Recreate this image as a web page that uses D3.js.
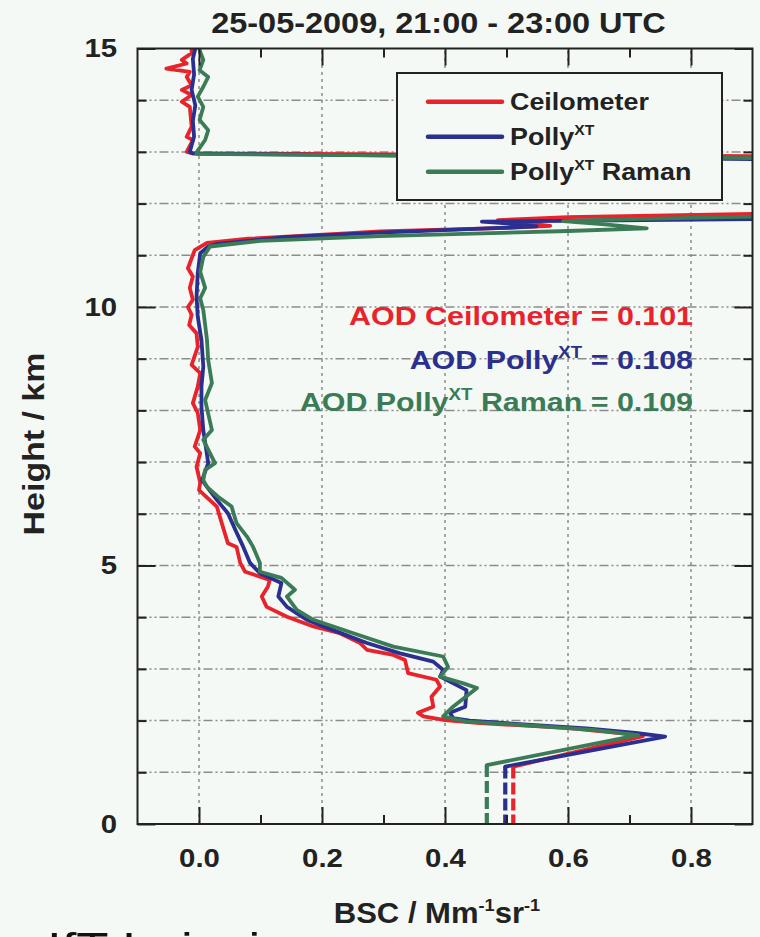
<!DOCTYPE html>
<head>
  <meta charset="utf-8">
  <style>
  body { margin: 0; background: #f4f9f5; }
  text { font-family: 'Liberation Sans', Arial, Helvetica, sans-serif; fill: #222; }
  .grid-h { stroke: #8c8c8c; stroke-width: 1.5; stroke-dasharray: 9,3,2,3,2,3; }
  .grid-v { stroke: #8c8c8c; stroke-width: 1.5; stroke-dasharray: 3,4; }
  .axis path { display: none; }
  .axis line { stroke: #222; stroke-width: 2; }
  .profile { fill: none; stroke-width: 3.8; stroke-linejoin: round; stroke-linecap: round; }
  </style>
</head>
<body>
  <svg id="chart"></svg>

  <script src="https://d3js.org/d3.v7.min.js"></script>
  <script>

  var width = 760,
      height = 937;

  // profiles as [height km, backscatter Mm-1 sr-1]; 1.6 = off scale (cloud)
  var ceilometer = [
    [15.0,-0.012],[14.91,-0.012],[14.78,-0.028],[14.71,-0.02],[14.61,-0.053],[14.55,-0.015],
    [14.45,-0.02],[14.29,-0.012],[14.20,-0.028],[14.10,-0.012],[13.97,-0.028],[13.87,-0.015],
    [13.49,-0.012],[13.29,-0.02],[13.23,-0.01],[13.0,-0.02],[12.97,-0.01],[12.92,0.9],[12.9,1.6],
    [11.85,1.6],[11.80,0.9],[11.74,0.6],[11.68,0.486],[11.62,0.53],[11.57,0.571],[11.53,0.50],
    [11.46,0.294],[11.43,0.246],[11.32,0.08],[11.24,0.013],[11.10,-0.007],[10.75,-0.018],
    [10.59,-0.01],[10.37,-0.015],[10.14,-0.01],[10.0,-0.018],[9.85,-0.012],[9.65,-0.016],
    [9.49,-0.004],[9.23,-0.002],[8.88,-0.012],[8.72,0.002],[8.46,-0.002],[8.14,-0.01],
    [7.95,-0.002],[7.62,0.002],[7.30,-0.007],[7.17,0.002],[6.91,-0.004],[6.60,0.002],[6.46,0.0],
    [6.14,0.029],[5.82,0.037],[5.43,0.047],[5.36,0.061],[5.05,0.067],[4.88,0.075],[4.72,0.115],
    [4.59,0.112],[4.40,0.102],[4.20,0.110],[4.01,0.143],[3.82,0.186],[3.69,0.229],[3.50,0.262],
    [3.37,0.273],[3.27,0.316],[3.17,0.335],[2.92,0.340],[2.79,0.386],[2.66,0.392],[2.46,0.378],
    [2.27,0.381],[2.15,0.356],[2.08,0.365],[2.01,0.40],[1.95,0.457],[1.86,0.598],[1.76,0.684],
    [1.70,0.722],[1.11,0.511]
  ];
  var polly = [
    [15.0,-0.006],[14.8,-0.01],[14.5,-0.008],[14.2,-0.012],[13.9,-0.006],[13.6,-0.01],
    [13.3,-0.008],[13.0,-0.015],[12.97,-0.01],[12.86,0.9],[12.84,1.6],[11.85,1.6],[11.70,0.9],
    [11.65,0.46],[11.60,0.52],[11.56,0.549],[11.52,0.47],[11.44,0.294],[11.35,0.14],[11.22,0.03],
    [11.17,0.015],[11.04,0.002],[10.66,-0.002],[10.2,-0.004],[9.81,-0.002],[9.36,0.004],
    [8.85,0.007],[8.46,0.004],[8.07,0.004],[7.62,0.007],[6.98,0.015],[6.65,0.005],[6.52,0.013],
    [6.27,0.029],[6.01,0.047],[5.69,0.059],[5.36,0.072],[5.05,0.083],[4.85,0.099],[4.66,0.134],
    [4.40,0.129],[4.20,0.143],[3.95,0.175],[3.75,0.218],[3.50,0.273],[3.30,0.327],[3.14,0.381],
    [2.98,0.397],[2.85,0.392],[2.59,0.435],[2.27,0.433],[2.15,0.408],[2.05,0.413],[2.0,0.44],
    [1.95,0.50],[1.85,0.63],[1.76,0.71],[1.69,0.758],[1.11,0.498]
  ];
  var pollyRaman = [
    [14.97,0.001],[14.78,0.007],[14.58,0.001],[14.45,0.015],[14.26,0.007],[14.07,-0.002],
    [13.87,0.007],[13.62,0.001],[13.42,0.015],[13.23,0.01],[12.99,-0.004],[12.96,-0.004],
    [12.88,0.9],[12.86,1.6],[11.85,1.6],[11.75,0.9],[11.70,0.7],[11.66,0.592],[11.60,0.66],
    [11.52,0.728],[11.47,0.6],[11.37,0.294],[11.28,0.1],[11.17,0.018],[10.97,0.007],
    [10.68,0.002],[10.37,0.01],[10.17,0.002],[9.94,0.007],[9.36,0.013],[8.97,0.015],[8.53,0.021],
    [8.20,0.01],[7.62,0.021],[7.43,0.007],[6.98,0.026],[6.85,0.01],[6.65,0.007],[6.52,0.013],
    [6.33,0.031],[6.14,0.053],[5.82,0.061],[5.56,0.078],[5.36,0.088],[5.05,0.099],[4.88,0.099],
    [4.76,0.134],[4.53,0.156],[4.40,0.143],[4.14,0.159],[3.95,0.186],[3.69,0.251],[3.43,0.316],
    [3.24,0.397],[3.04,0.405],[2.85,0.392],[2.72,0.430],[2.63,0.452],[2.27,0.413],[2.08,0.397],
    [1.98,0.435],[1.92,0.52],[1.82,0.64],[1.72,0.714],[1.14,0.468]
  ];

  // below the overlap height: constant extension (dashed)
  var ceilometerBelow = [[1.11,0.511],[0,0.511]];
  var pollyBelow = [[1.11,0.498],[0,0.498]];
  var pollyRamanBelow = [[1.14,0.468],[0,0.468]];

  var seriesNames = [['Ceilometer', ''], ['Polly', 'XT'], ['Polly', 'XT', ' Raman']];
  var aodValues = ['0.101', '0.108', '0.109'];

  var xMajor = [0, 0.2, 0.4, 0.6, 0.8];
  var xMinor = [0.1, 0.3, 0.5, 0.7];
  var yMajor = [0, 5, 10, 15];
  var yMinor = [1, 2, 3, 4, 6, 7, 8, 9, 11, 12, 13, 14];

  var colors = ['#e8232b', '#2b2f8f', '#3b7b56'];

  var x = d3.scaleLinear().domain([-0.1, 0.9]).range([137.5, 752.5]);
  var y = d3.scaleLinear().domain([0, 15]).range([824, 48.5]);

  var svg = d3.select('#chart')
    .attr('width', width)
    .attr('height', height);

  svg.append('rect')
    .attr('width', width)
    .attr('height', height)
    .attr('fill', '#f4f9f5');

  svg.append('clipPath').attr('id', 'plot-clip')
    .append('rect')
      .attr('x', x(-0.1)).attr('y', y(15))
      .attr('width', x(0.9) - x(-0.1))
      .attr('height', y(0) - y(15));

  // grid
  svg.append('g').selectAll('line')
    .data(d3.range(1, 15))
    .enter().append('line')
      .attr('class', 'grid-h')
      .attr('x1', x(-0.1)).attr('x2', x(0.9))
      .attr('y1', y).attr('y2', y);

  svg.append('g').selectAll('line')
    .data(xMajor)
    .enter().append('line')
      .attr('class', 'grid-v')
      .attr('y1', y(0)).attr('y2', y(15))
      .attr('x1', x).attr('x2', x);

  // profiles
  var line = d3.line()
    .x(function(d) { return x(d[1]); })
    .y(function(d) { return y(d[0]); });

  var curves = svg.append('g').attr('clip-path', 'url(#plot-clip)');
  [ceilometer, polly, pollyRaman].forEach(function(p, i) {
    curves.append('path')
      .attr('class', 'profile')
      .attr('d', line(p))
      .attr('stroke', colors[i]);
  });
  [ceilometerBelow, pollyBelow, pollyRamanBelow].forEach(function(p, i) {
    curves.append('path')
      .attr('class', 'profile')
      .attr('d', line(p))
      .attr('stroke', colors[i])
      .style('stroke-width', 4.2)
      .style('stroke-linecap', 'butt')
      .style('stroke-dasharray', '12,4');
  });

  // frame + ticks (all pointing inwards)
  svg.append('rect')
    .attr('x', x(-0.1)).attr('y', y(15))
    .attr('width', x(0.9) - x(-0.1))
    .attr('height', y(0) - y(15))
    .attr('fill', 'none')
    .attr('stroke', '#222')
    .attr('stroke-width', 2);

  function stretch(sel, sx) {
    sel.attr('transform', 'scale(' + sx + ',1)');
  }

  svg.append('g').attr('class', 'axis')
    .attr('transform', 'translate(0,' + y(0) + ')')
    .call(d3.axisBottom(x).tickValues(xMajor).tickSize(-17).tickSizeOuter(0)
      .tickPadding(25).tickFormat(d3.format('.1f')))
    .selectAll('text')
      .style('font-size', '26px').style('font-weight', 'bold').style('fill', '#222')
      .call(stretch, 1.13);
  svg.append('g').attr('class', 'axis')
    .attr('transform', 'translate(0,' + y(0) + ')')
    .call(d3.axisBottom(x).tickValues(xMinor).tickSize(-9).tickSizeOuter(0).tickFormat(''));
  svg.append('g').attr('class', 'axis')
    .attr('transform', 'translate(0,' + y(15) + ')')
    .call(d3.axisTop(x).tickValues(xMajor).tickSize(-17).tickSizeOuter(0).tickFormat(''));
  svg.append('g').attr('class', 'axis')
    .attr('transform', 'translate(0,' + y(15) + ')')
    .call(d3.axisTop(x).tickValues(xMinor).tickSize(-9).tickSizeOuter(0).tickFormat(''));

  svg.append('g').attr('class', 'axis')
    .attr('transform', 'translate(' + x(-0.1) + ',0)')
    .call(d3.axisLeft(y).tickValues(yMajor).tickSize(-18).tickSizeOuter(0).tickPadding(18))
    .selectAll('text')
      .style('font-size', '26px').style('font-weight', 'bold').style('fill', '#222')
      .call(stretch, 1.13);
  svg.append('g').attr('class', 'axis')
    .attr('transform', 'translate(' + x(-0.1) + ',0)')
    .call(d3.axisLeft(y).tickValues(yMinor).tickSize(-9).tickSizeOuter(0).tickFormat(''));
  svg.append('g').attr('class', 'axis')
    .attr('transform', 'translate(' + x(0.9) + ',0)')
    .call(d3.axisRight(y).tickValues(yMajor).tickSize(-18).tickSizeOuter(0).tickFormat(''));
  svg.append('g').attr('class', 'axis')
    .attr('transform', 'translate(' + x(0.9) + ',0)')
    .call(d3.axisRight(y).tickValues(yMinor).tickSize(-9).tickSizeOuter(0).tickFormat(''));

  // text helper: a group scaled horizontally, text at its origin
  function label(px, py, sx, size, weight, anchor, parts, fill, rotate) {
    var g = svg.append('g')
      .attr('transform', 'translate(' + px + ',' + py + ')' + (rotate ? 'rotate(' + rotate + ')' : '') + 'scale(' + sx + ',1)');
    var t = g.append('text')
      .attr('text-anchor', anchor)
      .style('font-size', size + 'px')
      .style('font-weight', weight)
      .style('fill', fill || '#222');
    parts.forEach(function(p) {
      var s = t.append('tspan').text(p[0]);
      if (p[1] === 'sup') s.style('font-size', Math.round(size * 0.6) + 'px').attr('dy', -size * 0.42);
      if (p[1] === 'down') s.attr('dy', size * 0.42);
    });
    return t;
  }

  label(438.5, 33, 1.12, 29, 'bold', 'middle', [['25-05-2009, 21:00 - 23:00 UTC']]);
  label(437, 923, 1.07, 29, 'bold', 'middle',
    [['BSC / Mm'], ['-1', 'sup'], ['sr', 'down'], ['-1', 'sup']]);
  label(44, 444, 1.17, 29, 'bold', 'middle', [['Height / km']], null, -90);

  // legend
  svg.append('rect')
    .attr('x', 397).attr('y', 73)
    .attr('width', 325).attr('height', 127)
    .attr('fill', '#f4f9f5')
    .attr('stroke', '#222')
    .attr('stroke-width', 2);

  seriesNames.forEach(function(n, i) {
    var ly = 101.7 + i * 35;
    svg.append('line')
      .attr('x1', 428).attr('x2', 502)
      .attr('y1', ly).attr('y2', ly)
      .attr('stroke', colors[i])
      .attr('stroke-width', 4.5)
      .attr('stroke-linecap', 'round');
    var parts = [[n[0]]];
    if (n[1]) parts.push([n[1], 'sup']);
    if (n[2]) parts.push([n[2], 'down']);
    label(510, ly + 8.5, 1.12, 24, 'bold', 'start', parts);
  });

  // AOD annotations
  label(693, 325, 1.17, 26, 'bold', 'end',
    [['AOD Ceilometer = ' + aodValues[0]]], colors[0]);
  label(693, 369, 1.17, 26, 'bold', 'end',
    [['AOD Polly'], ['XT', 'sup'], [' = ' + aodValues[1], 'down']], colors[1]);
  label(693, 411, 1.17, 26, 'bold', 'end',
    [['AOD Polly'], ['XT', 'sup'], [' Raman = ' + aodValues[2], 'down']], colors[2]);

  // cut-off caption at the bottom edge, as in the source image
  label(47, 964, 1.2, 44, 'normal', 'start', [['IfT Leipzig']], '#111');

  </script>
</body>
